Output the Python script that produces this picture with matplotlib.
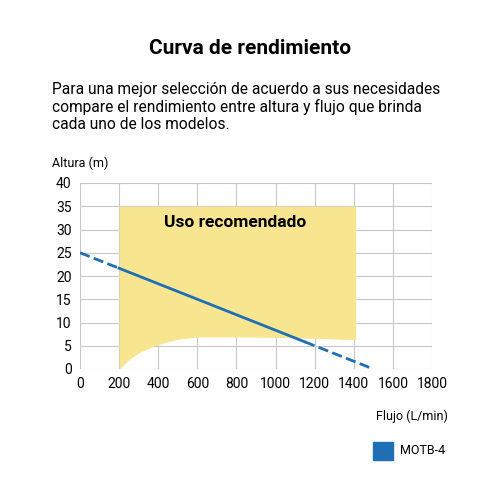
import numpy as np
import matplotlib
matplotlib.use("Agg")
from matplotlib import pyplot as plt

plt.rcParams['font.family'] = ['Roboto', 'DejaVu Sans']

# recommended zone
zone_x = [200, 250, 300, 400, 500, 600, 800, 1000, 1200, 1410]
zone_low = [0, 2.0, 3.5, 5.3, 6.4, 6.9, 6.9, 6.8, 6.6, 6.3]
zone_top = 35

# MOTB-4 curve
flow = [0, 1500]
head = [25, 0]
solid_from, solid_to = 200, 1150

fig = plt.figure(figsize=(5, 5), dpi=100)
fig.text(0.5, 0.893, "Curva de rendimiento", ha="center", fontsize=15, fontweight="bold")
fig.text(0.103, 0.742, "Para una mejor selección de acuerdo a sus necesidades\ncompare el rendimiento entre altura y flujo que brinda\ncada uno de los modelos.",
         fontsize=11.2, linespacing=1.15)
ax = fig.add_axes([0.16, 0.262, 0.704, 0.372])

ax.fill_between(zone_x, zone_low, zone_top, color="#f7e68f", zorder=1, lw=0)
ax.text(430, 33.2, "Uso recomendado", fontsize=12.5, fontweight="bold", va="top", zorder=3)

xs = np.array(flow, float)
ys = np.array(head, float)
def h(x):
    return np.interp(x, xs, ys)
ax.plot([0, solid_from], [h(0), h(solid_from)], "--", color="#1f6fb6", lw=2, zorder=4)
ax.plot([solid_from, solid_to], [h(solid_from), h(solid_to)], "-", color="#1f6fb6", lw=2, zorder=4)
ax.plot([solid_to, 1500], [h(solid_to), 0], "--", color="#1f6fb6", lw=2, zorder=4)

ax.set_xlim(0, 1800)
ax.set_ylim(0, 40)
ax.set_xticks(range(0, 1801, 200))
ax.set_yticks(range(0, 41, 5))
ax.grid(color="#c8c8c8", lw=0.8, zorder=0)
ax.set_axisbelow(True)
for s in ax.spines.values():
    s.set_visible(False)
ax.tick_params(length=0, labelsize=10, pad=6)
fig.text(0.105, 0.665, "Altura (m)", fontsize=9)
fig.text(0.895, 0.16, "Flujo (L/min)", fontsize=9, ha="right")

fig.patches.append(plt.Rectangle((0.745, 0.08), 0.04, 0.036, color="#1f6fb6", transform=fig.transFigure))
fig.text(0.8, 0.098, "MOTB-4", fontsize=9, va="center")

fig.savefig("out.png")
